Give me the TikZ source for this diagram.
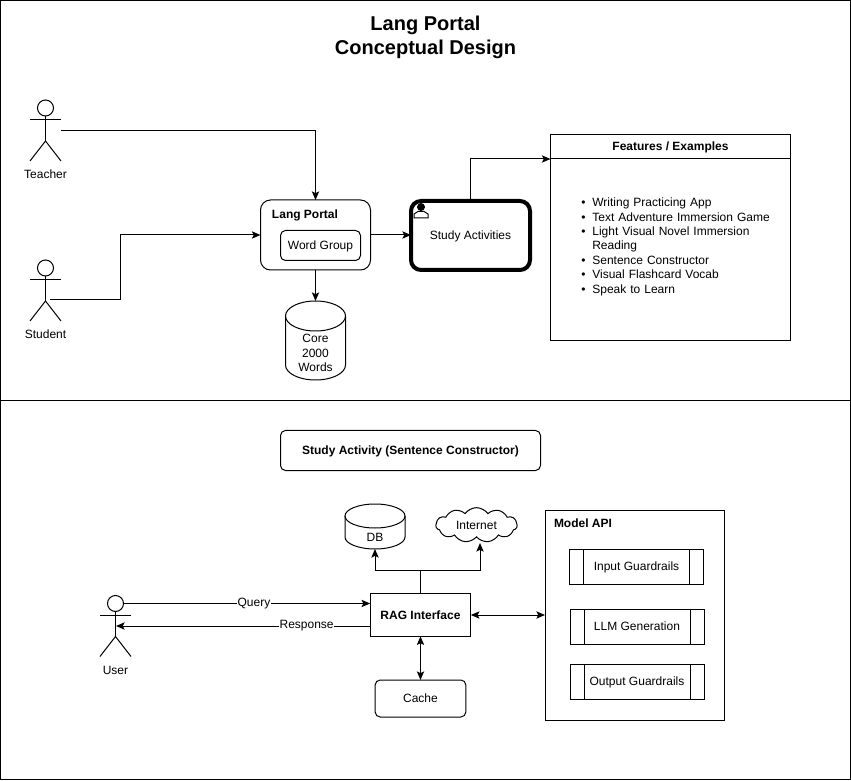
\documentclass[tikz,border=0pt]{standalone}
\usepackage{fontspec}
\setmainfont{Liberation Sans}
\usetikzlibrary{arrows.meta,calc,shapes.symbols}
\tikzstyle{every node}=[font=\fontsize{9}{10.8}\selectfont, outer sep=0pt, inner sep=0pt, align=center]
\tikzstyle{frame} = [draw, anchor=north west, line width=.75pt]
\tikzstyle{box} = [draw, line width=.75pt, fill=white, text height=7.9pt, text depth=1.9pt]
\tikzstyle{rbox} = [box, rounded corners=3.75pt]
\tikzstyle{bigbox} = [box, rounded corners=7.5pt]
\tikzstyle{texto} = [font=\fontsize{9}{10.8}\selectfont\bfseries]
\tikzstyle{titulo} = [font=\fontsize{15}{18}\selectfont\bfseries]
\tikzstyle{actorbox} = [minimum width=23.25pt, minimum height=45pt]
\tikzstyle{guard} = [box, minimum width=100.5pt, minimum height=26.25pt,
  path picture={
    \draw [line width=.75pt] ([xshift=10.5pt]path picture bounding box.north west) -- ([xshift=10.5pt]path picture bounding box.south west);
    \draw [line width=.75pt] ([xshift=-10.5pt]path picture bounding box.north east) -- ([xshift=-10.5pt]path picture bounding box.south east);
  }]
\tikzstyle{line} = [draw, line width=.75pt, -{Stealth[length=6.5pt,width=5.5pt,inset=1.4pt]}]
\tikzstyle{both} = [line, {Stealth[length=6.5pt,width=5.5pt,inset=1.4pt]}-{Stealth[length=6.5pt,width=5.5pt,inset=1.4pt]}]
\tikzstyle{etiqueta} = [fill=white, inner xsep=.5pt, inner ysep=1pt]
\newcommand{\actor}[5]{%
  \node (#1) [actorbox] at (#2,#3) {};
  \begin{scope}[shift={(#2,#3)}, line width=.75pt]
    \draw (0,-22.5) circle [radius=6pt];
    \draw (0,-14.5) -- (0,10.5) (-15.5,-10.5) -- (15.5,-10.5);
    \draw (-15.5,30.5) -- (0,10.5) -- (15.5,30.5);
  \end{scope}
  \node (#1label) at (#2,#3+#4) {#5};}
% name, x, y, then width, height and end radius in pt
\newcommand{\drum}[6]{%
  \node (#1) [minimum width=#4pt, minimum height=#5pt] at (#2,#3) {};
  \begin{scope}[shift={(#2,#3)}, x=1pt, y=1pt, line width=.75pt]
    \draw (0,#5/2-#6) ellipse [x radius=#4/2, y radius=#6];
    \draw (-#4/2,#5/2-#6) -- (-#4/2,-#5/2+#6)
      arc [start angle=180, end angle=360, x radius=#4/2, y radius=#6]
      -- (#4/2,#5/2-#6);
  \end{scope}}
\begin{document}
\begin{tikzpicture}[x=.75pt,y=-.75pt]
\useasboundingbox (0,0) rectangle (851,781);

% Frames
\node (frametop) [frame, minimum width=637.5pt, minimum height=300pt] at (.5,.5) {};
\node (framebottom) [frame, minimum width=637.5pt, minimum height=284.25pt] at (.5,400.5) {};
\node (title) [titulo] at (425.5,37.5) {Lang Portal\\Conceptual Design};

% Upper part
\actor{teacher}{45.5}{130.5}{44}{Teacher}
\actor{student}{45.5}{290.5}{44}{Student}
\coordinate (studentout) at (50,300);
\coordinate (studentbend) at (120.5,300);

\node (portal) [bigbox, minimum width=82.5pt, minimum height=52.5pt] at (315.5,235) {};
\node (portallabel) [texto] at (305,215.5) {Lang Portal};
\node (wordgroup) [rbox, minimum width=60pt, minimum height=22.5pt] at (320.5,245.5) {Word Group};
\node (study) [bigbox, line width=3pt, minimum width=89.25pt, minimum height=51.75pt] at (470.5,235.5) {Study Activities};
\drum{core}{315.5}{340.5}{45}{59.25}{11.25}
\node (corelabel) at (315.5,353) {Core\\2000\\Words};

\node (featureshead) [box, texto, minimum width=180pt, minimum height=18pt] at (670.5,147) {Features / Examples};
\node (features) [box, minimum width=180pt, minimum height=136.5pt, anchor=north] at (featureshead.south) {};
\node (featurelist) [anchor=north west, text width=165pt, align=left] at (565,196) {%
  \setlength{\leftmargini}{20.5pt}\setlength{\topsep}{0pt}\setlength{\partopsep}{0pt}%
  \vspace*{-\baselineskip}
  \begin{itemize}
    \setlength{\itemsep}{0pt}\setlength{\parsep}{0pt}\setlength{\parskip}{0pt}%
    \item Writing Practicing App
    \item Text Adventure Immersion Game
    \item Light Visual Novel Immersion\\Reading
    \item Sentence Constructor
    \item Visual Flashcard Vocab
    \item Speak to Learn
  \end{itemize}};

% Person icon of the study box
\filldraw [line width=.5pt] (421,207) circle [radius=2.7pt];
\draw [line width=.75pt] (414,218) -- (414,214) -- (418,211.5) -- (424,211.5) -- (428,214) -- (428,218) -- cycle;

\path [line] (teacher.east) -| (portal.north -| core.north);
\path [draw, line width=.75pt] (studentout) -- (studentbend);
\path [line] (studentbend) |- (portal.west);
\path [line] (portal.east) -- (portal.east -| study.west);
\path [line] (portal.south -| core.north) -- (core.north);
\path [line] (study.north) |- (featureshead.south west);

% Lower part
\node (activity) [rbox, texto, minimum width=195pt, minimum height=30pt] at (410.5,450.5) {Study Activity (Sentence Constructor)};

\actor{user}{115.5}{626}{44}{User}
\coordinate (userhead) at (123,603.5);
\coordinate (userbody) at (116,626);

\node (rag) [box, texto, minimum width=75.5pt, minimum height=32pt] at (420.5,615) {RAG Interface};
\drum{db}{375}{526.5}{45}{33.75}{9}
\node (dblabel) at (375,537) {DB};
\node (internet) [cloud, draw, line width=.75pt, cloud puffs=11, cloud puff arc=110, aspect=2.6, minimum width=61pt, minimum height=26pt] at (476.5,525) {Internet};
\node (cache) [rbox, minimum width=68pt, minimum height=27.75pt] at (420.5,698.5) {Cache};

\node (modelapi) [box, minimum width=134.25pt, minimum height=157.5pt] at (634.5,615) {};
\node (modellabel) [texto] at (583,523) {Model API};
\node (inputguard) [guard] at (636.5,566.5) {Input Guardrails};
\node (llm) [guard] at (637,626.5) {LLM Generation};
\node (outputguard) [guard] at (637,681.5) {Output Guardrails};

\coordinate (ragsplit) at (420.5,570.5);
\path [draw, line width=.75pt] (rag.north -| ragsplit) -- (ragsplit);
\path [line] (ragsplit) -| (db.south);
\path [line] (ragsplit) -| (480,543);
\path [line] (userhead) -- node [etiqueta, pos=.53] {Query} (rag.west |- userhead);
\path [line] (rag.west |- userbody) -- node [etiqueta, pos=.25] {Response} (userbody);
\path [both] (rag.south -| ragsplit) -- (cache.north -| ragsplit);
\path [both] (rag.east) -- (modelapi.west);

\end{tikzpicture}
\end{document}
